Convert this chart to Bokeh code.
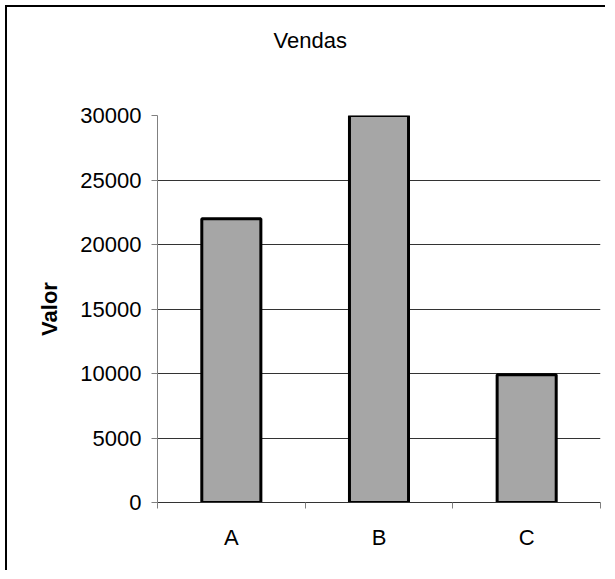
from bokeh.plotting import figure
from bokeh.models import (ColumnDataSource, Range1d, LinearAxis,
                          FixedTicker, Title, Grid)
from bokeh.embed import file_html
from bokeh.resources import INLINE

# data
categories = ["A", "B", "C"]
values = [22000, 30000, 9900]
y_ticks = [0, 5000, 10000, 15000, 20000, 25000, 30000]
title_text = "Vendas"
y_label = "Valor"

FONT = "Liberation Sans"

n = len(categories)
centers = [i + 0.5 for i in range(n)]
bounds = list(range(n + 1))
y_max = y_ticks[-1]

source = ColumnDataSource(dict(x=centers, cat=categories, val=values))

p = figure(x_range=Range1d(0, n), y_range=Range1d(0, y_max),
           width=600, height=565, output_backend="svg", toolbar_location=None,
           x_axis_location=None, y_axis_location=None,
           min_border_left=150, min_border_right=7,
           min_border_top=108, min_border_bottom=70)
p.styles = {"border-top": "2px solid #000000", "border-left": "2px solid #000000",
            "margin-left": "5px", "margin-top": "5px"}
p.outline_line_color = None
p.background_fill_color = "white"
p.border_fill_color = "white"
for gr in p.grid:
    gr.visible = False

p.vbar(x="x", top="val", width=0.40, source=source,
       fill_color="#A6A6A6", line_color="#000000", line_width=3)

# y axis
yax = LinearAxis(ticker=FixedTicker(ticks=y_ticks))
yax.axis_line_color = "#808080"
yax.major_tick_line_color = "#808080"
yax.major_tick_out = 6
yax.major_tick_in = 0
yax.minor_tick_line_color = None
yax.major_label_text_font = FONT
yax.major_label_text_font_size = "22px"
yax.major_label_text_color = "#000000"
yax.major_label_standoff = 10
yax.axis_label = y_label
yax.axis_label_text_font = FONT
yax.axis_label_text_font_style = "bold"
yax.axis_label_text_font_size = "22px"
yax.axis_label_text_color = "#000000"
yax.axis_label_standoff = 15
p.add_layout(yax, "left")

g = Grid(dimension=1, ticker=yax.ticker, grid_line_color="#333333", grid_line_width=1)
p.add_layout(g, "center")

# x axis: labels at category centres, tick marks at boundaries
xax = LinearAxis(ticker=FixedTicker(ticks=centers, minor_ticks=bounds))
xax.major_label_overrides = {c: lab for c, lab in zip(centers, categories)}
xax.axis_line_color = "#333333"
xax.major_tick_line_color = None
xax.minor_tick_line_color = "#808080"
xax.minor_tick_out = 6
xax.minor_tick_in = 0
xax.major_tick_out = 6
xax.major_tick_in = 0
xax.major_label_text_font = FONT
xax.major_label_text_font_size = "22px"
xax.major_label_text_color = "#000000"
xax.major_label_standoff = 16
p.add_layout(xax, "below")

# spacer between frame and title, then the title
spacer = Title(text=" ", text_font_size="1px", standoff=55)
p.add_layout(spacer, "above")
t = Title(text=title_text, align="left", offset=116, standoff=10,
          text_font=FONT, text_font_size="22px", text_font_style="normal",
          text_color="#000000")
p.add_layout(t, "above")

open("out.html", "w").write(file_html(p, INLINE))
